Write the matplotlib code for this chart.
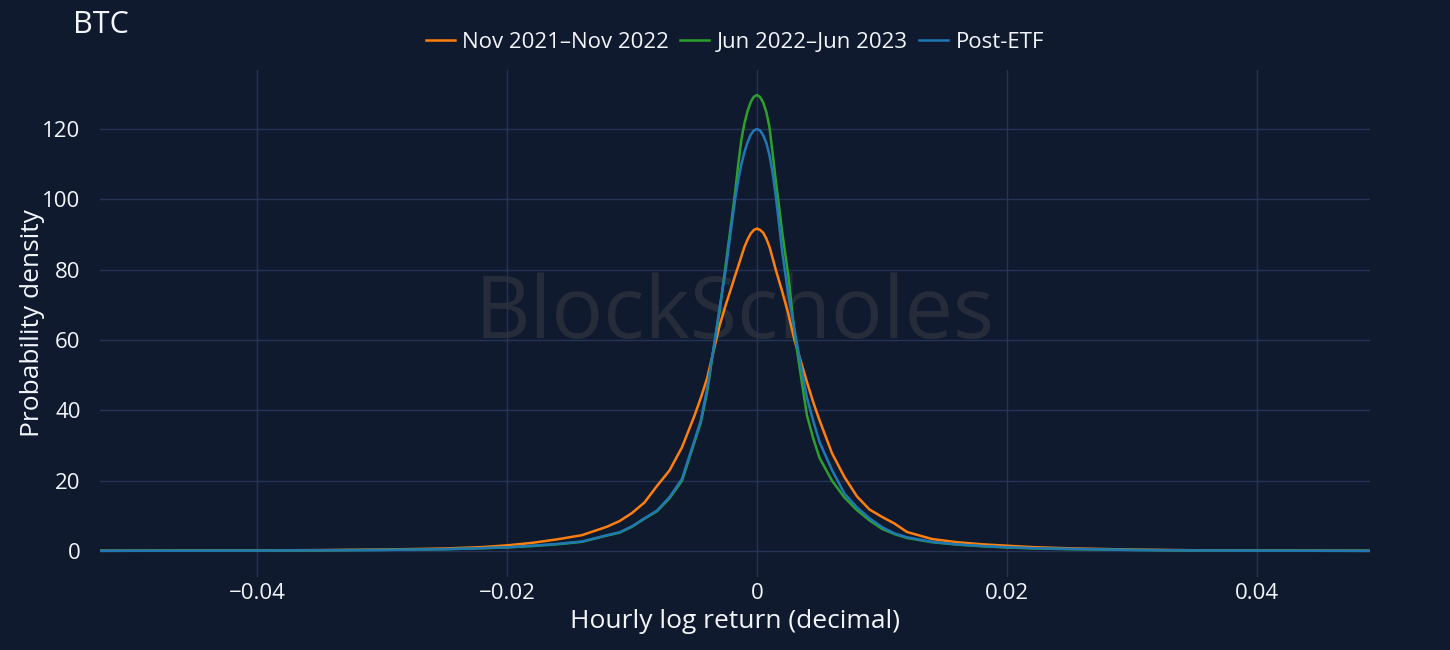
import matplotlib
matplotlib.use("Agg")
import matplotlib.pyplot as plt
from matplotlib.ticker import FuncFormatter

# hourly log return grid and the density
x_ret = [-0.0525, -0.045, -0.04, -0.035, -0.03, -0.025, -0.022, -0.02, -0.018, -0.016,
         -0.014, -0.012, -0.011, -0.01, -0.009, -0.008, -0.007, -0.006, -0.005, -0.0045,
         -0.004, -0.0035, -0.003, -0.0025, -0.002, -0.00175, -0.0015, -0.00125, -0.001,
         -0.00075, -0.0005, -0.00025, 0.0,
         0.00025, 0.0005, 0.00075, 0.001, 0.00125, 0.0015, 0.00175, 0.002,
         0.0025, 0.003, 0.0035, 0.004, 0.0045, 0.005,
         0.006, 0.007, 0.008, 0.009, 0.01, 0.011, 0.012, 0.014, 0.016, 0.018,
         0.02, 0.022, 0.025, 0.03, 0.035, 0.04, 0.045, 0.049]

nov21_nov22 = [0.05, 0.1, 0.15, 0.25, 0.4, 0.7, 1.1, 1.6, 2.3, 3.3,
               4.5, 6.9, 8.5, 10.8, 13.8, 18.5, 22.9, 29.5, 38.5, 43.5,
               49.0, 56.5, 64.0, 70.0, 75.5, 78.3, 81.0, 83.8, 86.5,
               88.6, 90.3, 91.3, 91.7,
               91.3, 90.5, 88.8, 86.5, 83.3, 80.0, 77.0, 74.0,
               67.5, 60.0, 54.0, 48.0, 42.3, 37.2,
               27.8, 21.0, 15.5, 11.8, 9.7, 7.8, 5.4, 3.4, 2.5, 1.9,
               1.5, 1.1, 0.75, 0.4, 0.2, 0.12, 0.08, 0.05]

jun22_jun23 = [0.05, 0.08, 0.12, 0.2, 0.3, 0.5, 0.8, 1.0, 1.4, 1.9,
               2.6, 4.4, 5.2, 6.9, 9.2, 11.3, 15.0, 20.0, 31.0, 36.5,
               45.0, 57.0, 68.0, 81.5, 95.0, 102.0, 110.0, 117.0, 121.7,
               125.2, 127.7, 129.2, 129.7,
               129.1, 127.5, 124.8, 120.5, 113.0, 105.5, 98.5, 91.0,
               78.5, 62.0, 50.0, 38.5, 32.0, 26.5,
               20.0, 15.2, 11.6, 8.7, 6.3, 4.8, 3.7, 2.5, 1.8, 1.35,
               1.0, 0.75, 0.5, 0.3, 0.15, 0.1, 0.06, 0.04]

post_etf = [0.05, 0.08, 0.12, 0.2, 0.3, 0.5, 0.8, 1.05, 1.5, 2.0,
            2.7, 4.5, 5.3, 7.0, 9.3, 11.5, 15.3, 20.5, 31.5, 37.0,
            46.0, 57.0, 69.0, 80.0, 93.5, 100.0, 105.5, 110.0, 113.5,
            116.3, 118.4, 119.6, 120.0,
            119.6, 118.2, 116.0, 112.5, 107.5, 101.0, 93.5, 85.5,
            73.0, 63.0, 53.0, 43.5, 37.0, 31.0,
            23.0, 16.3, 12.4, 9.3, 6.8, 5.0, 3.9, 2.6, 1.9, 1.4,
            1.05, 0.8, 0.6, 0.3, 0.15, 0.1, 0.06, 0.04]

series_names = ["Nov 2021\u2013Nov 2022", "Jun 2022\u2013Jun 2023", "Post-ETF"]
series_colors = ["#ff7f0e", "#2ca02c", "#1f77b4"]

bg = "#101a2e"
grid_c = "#253357"
txt = "#f2f5fa"
plt.rcParams["font.family"] = ["Open Sans", "DejaVu Sans"]

fig = plt.figure(figsize=(14.5, 6.5), dpi=100, facecolor=bg)
ax = fig.add_axes([100 / 1450, 73 / 650, 1270 / 1450, 507 / 650])
ax.set_facecolor(bg)

# faint watermark
ax.text(0.5, 0.515, "BlockScholes", transform=ax.transAxes, ha="center", va="center",
        fontsize=62, color="#272c3a", zorder=0)

for ys, name, col in zip([nov21_nov22, jun22_jun23, post_etf], series_names, series_colors):
    ax.plot(x_ret, ys, color=col, lw=1.8, label=name, zorder=3)

ax.set_xlim(-0.05256, 0.04904)
ax.set_ylim(-7.4, 136.8)
ax.set_xticks([-0.04, -0.02, 0, 0.02, 0.04])
ax.set_yticks([0, 20, 40, 60, 80, 100, 120])
fmt = FuncFormatter(lambda v, p: ("%g" % round(v, 4)).replace("-", "\u2212"))
ax.xaxis.set_major_formatter(fmt)
ax.yaxis.set_major_formatter(fmt)
ax.grid(True, color=grid_c, lw=1.0, zorder=1)
ax.set_axisbelow(True)
for s in ax.spines.values():
    s.set_visible(False)
ax.tick_params(length=0, colors=txt, labelsize=16)
ax.tick_params(axis="x", pad=4)
ax.tick_params(axis="y", pad=14)

ax.set_xlabel("Hourly log return (decimal)", color=txt, fontsize=19, labelpad=4)
ax.set_ylabel("Probability density", color=txt, fontsize=19, labelpad=-2)

fig.text(73 / 1450, 1 - 25 / 650, "BTC", color=txt, fontsize=22, ha="left", va="center")

leg = fig.legend(loc="center", bbox_to_anchor=(735 / 1450, 1 - 42 / 650), ncol=3,
                 frameon=False, fontsize=16, handlelength=1.3, handletextpad=0.35,
                 columnspacing=0.5)
for t in leg.get_texts():
    t.set_color(txt)

fig.savefig("out.png", dpi=100, facecolor=bg)
